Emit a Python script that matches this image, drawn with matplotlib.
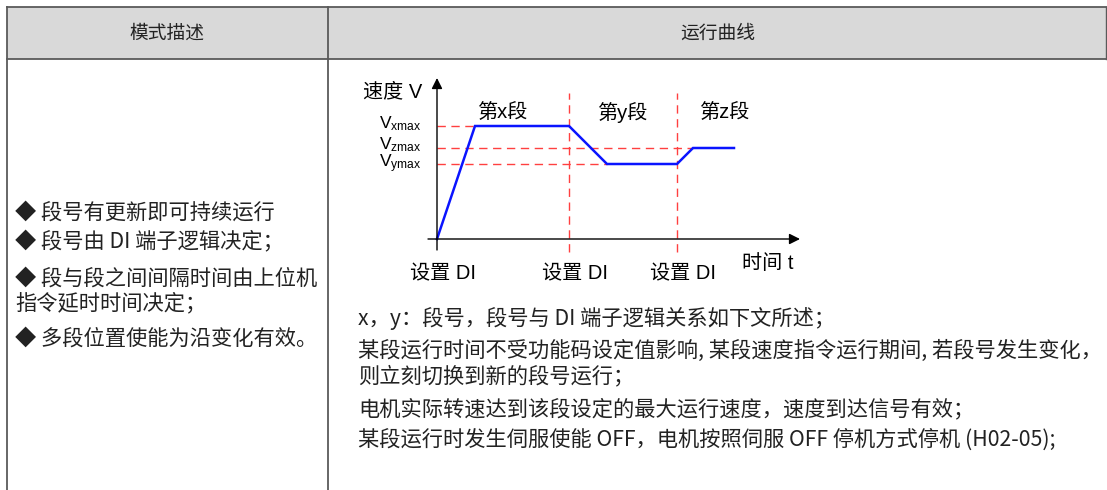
import matplotlib
matplotlib.use("Agg")
import matplotlib.pyplot as plt
from matplotlib.patches import Rectangle

plt.rcParams['font.family'] = ['Noto Sans CJK SC', 'DejaVu Sans']
plt.rcParams['mathtext.fontset'] = 'custom'
plt.rcParams['mathtext.rm'] = 'Liberation Sans'
plt.rcParams['mathtext.it'] = 'Liberation Sans'

# ---------------- data ----------------
header_labels = ["模式描述", "运行曲线"]
left_lines = ["◆ 段号有更新即可持续运行",
              "◆ 段号由 DI 端子逻辑决定；",
              "◆ 段与段之间间隔时间由上位机",
              "指令延时时间决定；",
              "◆ 多段位置使能为沿变化有效。"]
right_lines = ["x，y：段号，段号与 DI 端子逻辑关系如下文所述；",
               "某段运行时间不受功能码设定值影响, 某段速度指令运行期间, 若段号发生变化，",
               "则立刻切换到新的段号运行；",
               "电机实际转速达到该段设定的最大运行速度，速度到达信号有效；",
               "某段运行时发生伺服使能 OFF，电机按照伺服 OFF 停机方式停机 (H02-05);"]

# speed profile (time, speed) in diagram units
curve_t = [0, 38, 132, 170, 240, 256, 297]
curve_v = [0, 113, 113, 75, 75, 91, 91]
switch_t = [0, 132, 240]
switch_labels = ["设置 DI", "设置 DI", "设置 DI"]
segment_labels = ["第x段", "第y段", "第z段"]
segment_t = [65, 185, 287]
vmax_names = ["xmax", "zmax", "ymax"]
vmax_vals = [113, 91, 75]
vmax_end_t = [38, 256, 170]

W, H = 1107, 490
fig = plt.figure(figsize=(W / 100, H / 100), dpi=100)
bg = fig.add_axes([0, 0, 1, 1])
bg.set_xlim(0, W)
bg.set_ylim(H, 0)
bg.axis('off')

# table frame
lc = '#5a5a5a'
bg.add_patch(Rectangle((7, 7), W - 7, 52, facecolor='#d9d9d9', edgecolor='none'))
bg.plot([7, W], [7, 7], color=lc, lw=1.3)
bg.plot([7, W], [59, 59], color=lc, lw=1.3)
bg.plot([7, 7], [7, H], color=lc, lw=1.3)
bg.plot([328, 328], [7, H], color=lc, lw=1.3)
bg.plot([W - 1, W - 1], [7, 59], color=lc, lw=1.0)

tc = '#222222'
bg.text(167, 33, header_labels[0], ha='center', va='center', fontsize=13.5, color=tc)
bg.text(718, 33, header_labels[1], ha='center', va='center', fontsize=13.5, color=tc)

left_y = [213, 242, 279, 303, 339]
for s, y in zip(left_lines, left_y):
    bg.text(15, y, s, ha='left', va='center', fontsize=15.3, color=tc)

right_y = [318, 351, 376, 409, 440]
for s, y in zip(right_lines, right_y):
    bg.text(358, y, s, ha='left', va='center', fontsize=15.3, color=tc)

# ---------------- diagram ----------------
x0, x1 = 428, 800
y0, y1 = 239, 78
ax = fig.add_axes([x0 / W, 1 - y0 / H, (x1 - x0) / W, (y0 - y1) / H])
ax.set_xlim(-9, 363)
ax.set_ylim(0, 161)
ax.axis('off')

dfont = ['Liberation Sans', 'Noto Sans CJK SC']
red = '#ff4040'
dash = (0, (6, 4))

# axes arrows
ax.annotate('', xy=(363, 0), xytext=(-9, 0),
            arrowprops=dict(arrowstyle='-|>', color='black', lw=1.0,
                            mutation_scale=16, shrinkA=0, shrinkB=0),
            annotation_clip=False)
ax.annotate('', xy=(0, 161), xytext=(0, -11),
            arrowprops=dict(arrowstyle='-|>', color='black', lw=1.0,
                            mutation_scale=16, shrinkA=0, shrinkB=0),
            annotation_clip=False)

# reference dashed lines
for v, te in zip(vmax_vals, vmax_end_t):
    ax.plot([0, te], [v, v], color=red, lw=1.0, ls=dash, clip_on=False)
for t in switch_t[1:]:
    ax.plot([t, t], [-13, 146], color=red, lw=1.0, ls=dash, clip_on=False)

# speed curve
ax.plot(curve_t, curve_v, color='#0a14ff', lw=1.8, clip_on=False, solid_joinstyle='miter')

# labels
fs = 14.5
ax.text(-15, 147, "速度 V", ha='right', va='center', fontsize=fs, family=dfont, clip_on=False)
label_offsets = [2, 3, 0]
for name, v, off in zip(vmax_names, vmax_vals, label_offsets):
    ax.text(-15, v + off, r"V$_{\rm %s}$" % name, ha='right', va='center', fontsize=12.5,
            family=dfont, clip_on=False)
for s, t in zip(segment_labels, segment_t):
    ax.text(t, 126, s, ha='center', va='center', fontsize=fs, family=dfont, clip_on=False)
for s, t in zip(switch_labels, switch_t):
    ax.text(t + 6, -35, s, ha='center', va='center', fontsize=fs, family=dfont, clip_on=False)
ax.text(331, -24, "时间 t", ha='center', va='center', fontsize=fs, family=dfont, clip_on=False)

fig.savefig('out.png', dpi=100)
